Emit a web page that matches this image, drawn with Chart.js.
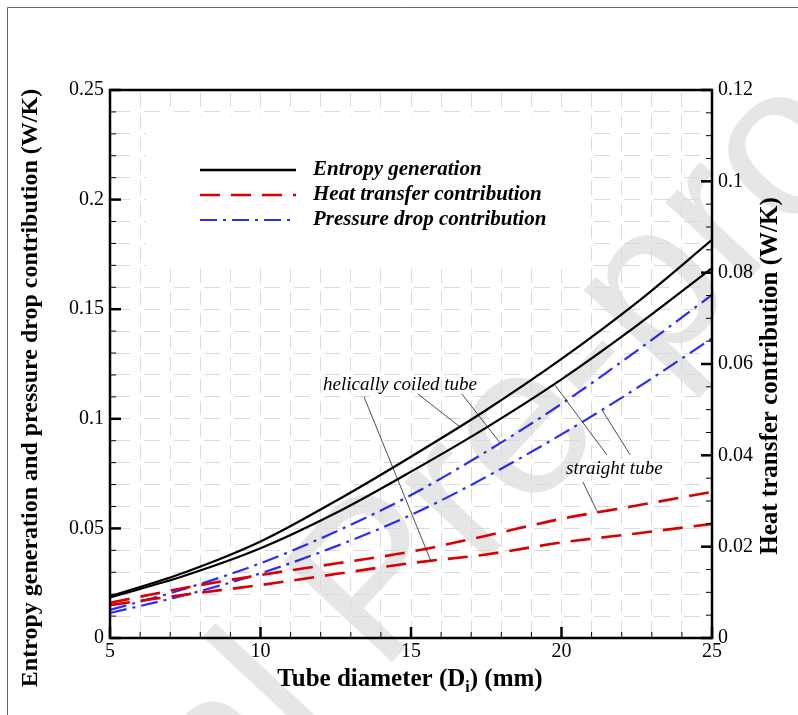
<!DOCTYPE html>
<html>
<head>
<meta charset="utf-8">
<script src="https://cdn.jsdelivr.net/npm/chart.js@4.4.0/dist/chart.umd.min.js"></script>
<style>
  html, body { margin: 0; padding: 0; background: #fff; }
  #wrap { width: 798px; height: 715px; }
</style>
</head>
<body>
<div id="wrap"><canvas id="chart" width="798" height="715"></canvas></div>
<script>
// tube diameter (mm)
const diameters = [5, 7.5, 10, 12.5, 15, 17.5, 20, 22.5, 25]

// left axis (W/K)
const entropyHelical  = [0.0190, 0.0300, 0.0440, 0.0625, 0.0827, 0.1040, 0.1273, 0.1530, 0.1816]
const entropyStraight = [0.0185, 0.0285, 0.0409, 0.0570, 0.0759, 0.0960, 0.1180, 0.1425, 0.1687]
const pressureHelical  = [0.0128, 0.0225, 0.0341, 0.0485, 0.0652, 0.0850, 0.1068, 0.1310, 0.1565]
const pressureStraight = [0.0114, 0.0196, 0.0295, 0.0418, 0.0561, 0.0735, 0.0929, 0.1140, 0.1367]

// right axis (W/K)
const heatStraight = [0.0077, 0.0110, 0.0138, 0.0163, 0.0189, 0.0224, 0.0261, 0.0290, 0.0320]
const heatHelical  = [0.0072, 0.0095, 0.0116, 0.0140, 0.0164, 0.0183, 0.0209, 0.0229, 0.0250]

const xTicksMajor = [5, 10, 15, 20, 25]
const legendLabels = ['Entropy generation', 'Heat transfer contribution', 'Pressure drop contribution']

const BLACK = '#000000'
const RED   = '#d80000'
const BLUE  = '#2a2aff'
const SERIF = '"Liberation Serif", "Times New Roman", serif'

const DASH_RED  = [20, 11]
const DASH_BLUE = [17, 6, 3, 6]

function pts(ys) {
    return diameters.map((d, i) => ({x: d, y: ys[i]}))
}

function line(data, color, dash, width, axis) {
    return {
        data: pts(data),
        borderColor: color,
        borderWidth: width,
        borderDash: dash,
        pointRadius: 0,
        fill: false,
        cubicInterpolationMode: 'monotone',
        yAxisID: axis
    }
}

const decorations = {
    id: 'decorations',
    beforeDatasetsDraw(chart) {
        const ctx = chart.ctx
        const a = chart.chartArea
        // hide grid behind legend
        ctx.save()
        ctx.fillStyle = '#fff'
        ctx.fillRect(a.left + 36, 116, 440, 152)
        ctx.restore()
    },
    afterDatasetsDraw(chart) {
        const ctx = chart.ctx
        const a = chart.chartArea
        const x = chart.scales.x
        const y = chart.scales.y
        const y2 = chart.scales.y2

        ctx.save()
        ctx.strokeStyle = BLACK
        ctx.lineCap = 'butt'

        // inward ticks
        x.ticks.forEach(t => {
            const px = x.getPixelForValue(t.value)
            const major = xTicksMajor.includes(Math.round(t.value))
            ctx.lineWidth = major ? 2.5 : 1
            ctx.beginPath()
            ctx.moveTo(px, a.bottom)
            ctx.lineTo(px, a.bottom - (major ? 11 : 6))
            ctx.stroke()
        })
        y.ticks.forEach(t => {
            const py = y.getPixelForValue(t.value)
            const major = Math.round(t.value * 100) % 5 === 0
            ctx.lineWidth = major ? 2.5 : 1
            ctx.beginPath()
            ctx.moveTo(a.left, py)
            ctx.lineTo(a.left + (major ? 11 : 6), py)
            ctx.stroke()
        })
        y2.ticks.forEach(t => {
            const py = y2.getPixelForValue(t.value)
            const major = Math.round(t.value * 1000) % 20 === 0
            ctx.lineWidth = major ? 2.5 : 1
            ctx.beginPath()
            ctx.moveTo(a.right, py)
            ctx.lineTo(a.right - (major ? 11 : 6), py)
            ctx.stroke()
        })

        // frame
        ctx.lineWidth = 2.5
        ctx.strokeRect(a.left, a.top, a.right - a.left, a.bottom - a.top)

        // legend
        const lx0 = 200, lx1 = 296, tx = 313
        const rows = [170, 195, 220]
        const styles = [[BLACK, [], 2.5], [RED, DASH_RED, 2.6], [BLUE, DASH_BLUE, 2.2]]
        rows.forEach((ry, i) => {
            ctx.strokeStyle = styles[i][0]
            ctx.lineWidth = styles[i][2]
            ctx.setLineDash(styles[i][1])
            ctx.beginPath()
            ctx.moveTo(lx0, ry)
            ctx.lineTo(lx1, ry)
            ctx.stroke()
        })
        ctx.setLineDash([])
        ctx.fillStyle = BLACK
        ctx.font = 'italic bold 21px ' + SERIF
        ctx.textBaseline = 'middle'
        rows.forEach((ry, i) => ctx.fillText(legendLabels[i], tx, ry))

        // annotations
        ctx.font = 'italic 19px ' + SERIF
        ctx.textBaseline = 'alphabetic'
        ctx.fillText('helically coiled tube', 323, 390)
        ctx.fillText('straight tube', 566, 474)
        ctx.strokeStyle = '#222'
        ctx.lineWidth = 0.8
        const leaders = [
            [[13.44, 0.110], [15.66, 0.0351]],
            [[15.23, 0.1113], [16.63, 0.0963]],
            [[16.69, 0.1113], [17.96, 0.0890]],
            [[19.78, 0.1154], [21.51, 0.0835]],
            [[21.35, 0.1040], [22.28, 0.0835]],
            [[20.71, 0.0712], [21.21, 0.0570]]
        ]
        leaders.forEach(([p, q]) => {
            ctx.beginPath()
            ctx.moveTo(x.getPixelForValue(p[0]), y.getPixelForValue(p[1]))
            ctx.lineTo(x.getPixelForValue(q[0]), y.getPixelForValue(q[1]))
            ctx.stroke()
        })

        // axis titles
        ctx.fillStyle = BLACK
        ctx.textAlign = 'center'
        ctx.textBaseline = 'middle'
        ctx.save()
        ctx.font = 'bold 24px ' + SERIF
        ctx.translate(31, 388)
        ctx.rotate(-Math.PI / 2)
        ctx.fillText('Entropy generation and pressure drop contribution (W/K)', 0, 0)
        ctx.restore()
        ctx.save()
        ctx.font = 'bold 25px ' + SERIF
        ctx.translate(771, 376)
        ctx.rotate(-Math.PI / 2)
        ctx.fillText('Heat transfer contribution (W/K)', 0, 0)
        ctx.restore()

        // x title with subscript
        const p1 = 'Tube diameter (D', sub = 'i', p2 = ') (mm)'
        ctx.textAlign = 'left'
        ctx.textBaseline = 'alphabetic'
        ctx.font = 'bold 25px ' + SERIF
        const w1 = ctx.measureText(p1).width
        const w3 = ctx.measureText(p2).width
        ctx.font = 'bold 16px ' + SERIF
        const w2 = ctx.measureText(sub).width
        const start = 410 - (w1 + w2 + w3) / 2
        ctx.font = 'bold 25px ' + SERIF
        ctx.fillText(p1, start, 686)
        ctx.font = 'bold 16px ' + SERIF
        ctx.fillText(sub, start + w1, 692)
        ctx.font = 'bold 25px ' + SERIF
        ctx.fillText(p2, start + w1 + w2, 686)

        // outer frame
        ctx.strokeStyle = '#666'
        ctx.lineWidth = 1
        ctx.beginPath()
        ctx.moveTo(7.5, chart.height)
        ctx.lineTo(7.5, 7.5)
        ctx.lineTo(chart.width, 7.5)
        ctx.stroke()
        ctx.restore()
    },
    afterDraw(chart) {
        const ctx = chart.ctx
        // watermark, darken so marks and text stay on top
        ctx.save()
        ctx.globalCompositeOperation = 'darken'
        ctx.font = '215px "Liberation Sans", Arial, sans-serif'
        ctx.fillStyle = '#e6e6e6'
        ctx.translate(380, 675)
        ctx.rotate(-47 * Math.PI / 180)
        const pre = ctx.measureText('Journal ').width
        ctx.fillText('Journal Pre-proof', -pre, 0)
        ctx.restore()
    }
}

const tickFont = {family: SERIF, size: 20}

new Chart(document.getElementById('chart'), {
    type: 'line',
    data: {
        datasets: [
            line(entropyHelical, BLACK, [], 2.2, 'y'),
            line(entropyStraight, BLACK, [], 2.2, 'y'),
            line(heatHelical, RED, DASH_RED, 2.6, 'y2'),
            line(heatStraight, RED, DASH_RED, 2.6, 'y2'),
            line(pressureHelical, BLUE, DASH_BLUE, 2.2, 'y'),
            line(pressureStraight, BLUE, DASH_BLUE, 2.2, 'y')
        ]
    },
    options: {
        responsive: false,
        animation: false,
        devicePixelRatio: 1,
        layout: {padding: {top: 90, left: 0, right: 0, bottom: 0}},
        plugins: {legend: {display: false}, tooltip: {enabled: false}},
        scales: {
            x: {
                type: 'linear',
                min: 5,
                max: 25,
                afterFit: s => { s.height = 77 },
                ticks: {
                    stepSize: 1,
                    autoSkip: false,
                    maxRotation: 0,
                    color: BLACK,
                    font: tickFont,
                    padding: 2,
                    callback: v => xTicksMajor.includes(v) ? String(v) : ''
                },
                grid: {color: '#dadada', lineWidth: 1, drawTicks: false},
                border: {display: false, dash: [14, 8], dashOffset: -3}
            },
            y: {
                position: 'left',
                min: 0,
                max: 0.25,
                afterFit: s => { s.width = 110 },
                ticks: {
                    stepSize: 0.01,
                    autoSkip: false,
                    color: BLACK,
                    font: tickFont,
                    padding: 6,
                    callback: v => Math.round(v * 100) % 5 === 0 ? String(+v.toFixed(2)) : ''
                },
                grid: {color: '#dadada', lineWidth: 1, drawTicks: false},
                border: {display: false, dash: [16, 14], dashOffset: -4}
            },
            y2: {
                position: 'right',
                min: 0,
                max: 0.12,
                afterFit: s => { s.width = 86 },
                ticks: {
                    stepSize: 0.005,
                    autoSkip: false,
                    color: BLACK,
                    font: tickFont,
                    padding: 6,
                    callback: v => Math.round(v * 1000) % 20 === 0 ? String(+v.toFixed(2)) : ''
                },
                grid: {drawOnChartArea: false, drawTicks: false},
                border: {display: false}
            }
        }
    },
    plugins: [decorations]
})
</script>
</body>
</html>
